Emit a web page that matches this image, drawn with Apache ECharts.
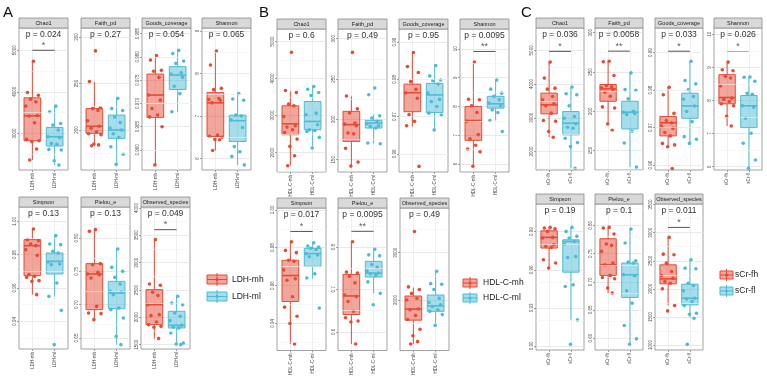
<!DOCTYPE html>
<html>
<head>
<meta charset="utf-8">
<script src="https://cdn.jsdelivr.net/npm/echarts@6/dist/echarts.min.js"></script>
<style>
html, body { margin: 0; background: #fff; }
#chart { width: 767px; height: 378px; }
</style>
</head>
<body>
<div id="chart"></div>
<script>
// facet order: top row 4, bottom row 3
const FACETS = ['Chao1', 'Faith_pd', 'Goods_coverage', 'Shannon', 'Simpson', 'Pielou_e', 'Observed_species'];

// ---------- panel A ----------
const A_GROUPS = ['LDH-mh', 'LDH-ml'];
const A_P = ['0.024', '0.27', '0.054', '0.065', '0.13', '0.13', '0.049'];
const A_SIG = [[5000, '*'], null, null, null, null, null, [3604, '*']];
const A_RANGE = [[2120, 5536], [157, 309.6], [0.9557, 0.9862], [5.73, 9.07], [0.9234, 1.0086], [0.6335, 0.8465], [1420, 4019]];
const A_TICKS = [['3000', '4000', '5000'], ['200', '250', '300'], ['0.960', '0.965', '0.970', '0.975', '0.980', '0.985'],
  ['6', '7', '8', '9'], ['0.94', '0.96', '0.98', '1.00'], ['0.65', '0.70', '0.75', '0.80'], ['1500', '2000', '2500', '3000', '3500', '4000']];
// [lower whisker, q1, median, q3, upper whisker]
const A_BOX_HI = [[2360, 2824, 3424, 3856, 4736], [183, 196.4, 204, 223, 251.8], [0.9568, 0.967, 0.9718, 0.9763, 0.9801],
  [6.19, 6.52, 7.31, 7.55, 8.53], [0.956, 0.9674, 0.9854, 0.989, 0.9954], [0.6775, 0.6925, 0.746, 0.7615, 0.8125], [1610, 1866, 2232, 2506, 3421]];
const A_BOX_LO = [[2240, 2696, 2920, 3144, 3656], [162.5, 191, 200, 216, 234], [0.9682, 0.973, 0.9761, 0.9779, 0.9816],
  [5.85, 6.40, 6.89, 7.02, 7.53], [0.955, 0.9684, 0.976, 0.981, 0.9914], [0.64, 0.694, 0.7175, 0.735, 0.7835], [1500, 1805, 1854, 2110, 2385]];
const A_PTS_HI = [
  [4736, 3984, 3920, 3824, 3760, 3656, 3430, 3420, 3256, 2856, 2824, 2800, 2624, 2360],
  [285, 252, 224, 223, 221, 210, 204, 202, 198, 196, 195, 185, 184, 183],
  [0.9803, 0.9793, 0.9771, 0.9769, 0.9756, 0.9718, 0.9707, 0.9689, 0.9675, 0.9671, 0.9650, 0.9568],
  [8.53, 8.20, 7.65, 7.62, 7.41, 7.39, 7.37, 7.31, 6.55, 6.52, 6.50, 6.45, 6.44, 6.19],
  [0.9954, 0.9890, 0.9884, 0.9864, 0.9854, 0.9830, 0.9796, 0.9680, 0.9670, 0.9664, 0.9644, 0.9640, 0.9560],
  [0.8125, 0.8100, 0.7615, 0.7600, 0.7485, 0.7460, 0.7450, 0.7400, 0.6975, 0.6875, 0.6865, 0.6775],
  [3421, 2610, 2586, 2458, 2397, 2232, 2049, 2030, 1915, 1866, 1835, 1817, 1610]
];
const A_PTS_LO = [
  [3656, 3520, 3240, 3200, 3080, 2920, 2900, 2760, 2740, 2616, 2600, 2344, 2240],
  [234, 223, 221, 214, 208, 202, 200, 196, 192, 182, 174, 163],
  [0.9814, 0.9807, 0.9791, 0.9786, 0.9766, 0.9763, 0.9756, 0.9737, 0.9721, 0.9682],
  [7.53, 7.40, 7.37, 7.02, 7.00, 6.91, 6.73, 6.28, 6.16, 6.05, 5.85],
  [0.9914, 0.9864, 0.9860, 0.9820, 0.9810, 0.9756, 0.9744, 0.9740, 0.9630, 0.9550, 0.9466, 0.9260],
  [0.7835, 0.7560, 0.7500, 0.7410, 0.7310, 0.7200, 0.7190, 0.7150, 0.6950, 0.6925, 0.6800, 0.6525, 0.6400],
  [2385, 2262, 2232, 2080, 2019, 1939, 1854, 1817, 1805, 1714, 1530, 1512, 1500]
];

// ---------- panel B ----------
const B_GROUPS = ['HDL-C-mh', 'HDL-C-ml'];
const B_P = ['0.6', '0.49', '0.95', '0.0095', '0.017', '0.0095', '0.49'];
const B_SIG = [null, null, null, [9.91, '**'], [0.9886, '*'], [0.837, '**'], null];
const B_RANGE = [[1469, 5339], [134.7, 312], [0.9551, 0.9935], [5.72, 10.69], [0.9257, 1.001], [0.556, 0.892], [930, 3946]];
const B_TICKS = [['2000', '3000', '4000', '5000'], ['150', '200', '250', '300'], ['0.96', '0.97', '0.98', '0.99'],
  ['6', '7', '8', '9', '10'], ['0.94', '0.96', '0.98', '1.00'], ['0.6', '0.7', '0.8'], ['2000', '3000']];
const B_BOX_HI = [[1640, 2477, 2774, 3260, 3647], [141.7, 172.7, 193.4, 209.9, 228.5], [0.9673, 0.9713, 0.9764, 0.9787, 0.9871],
  [5.94, 6.82, 7.51, 8.0, 9.53], [0.9291, 0.9516, 0.9653, 0.9734, 0.9831], [0.5715, 0.6408, 0.6846, 0.7354, 0.81], [1069, 1572, 1807, 2083, 2262]];
const B_BOX_LO = [[2162, 2612, 2837, 3377, 3800], [169.8, 189.2, 195.4, 198.7, 205.8], [0.9669, 0.9711, 0.9758, 0.9789, 0.9838],
  [7.51, 7.94, 8.09, 8.35, 8.92], [0.9636, 0.9702, 0.9769, 0.9797, 0.9826], [0.6908, 0.7292, 0.7385, 0.7662, 0.7946], [1462, 1759, 1876, 2104, 2587]];
const B_PTS_HI = [
  [4709, 3674, 3620, 3305, 3260, 2972, 2720, 2684, 2612, 2540, 2360, 2162, 1910, 1640],
  [283, 229, 213, 208, 195.4, 194, 192, 183, 182, 164, 147, 142],
  [0.9872, 0.9834, 0.9818, 0.9794, 0.9773, 0.9763, 0.9749, 0.9705, 0.9687, 0.9675, 0.9566],
  [9.54, 8.25, 8.23, 8.02, 7.79, 7.48, 7.02, 6.87, 6.65, 6.52, 6.42, 5.92],
  [0.9831, 0.9786, 0.9774, 0.9734, 0.9728, 0.9683, 0.9636, 0.9628, 0.9541, 0.9486, 0.9438, 0.9400, 0.9291],
  [0.8123, 0.7408, 0.7385, 0.7308, 0.7154, 0.6869, 0.6831, 0.6715, 0.6485, 0.6331, 0.6254, 0.6231, 0.5715],
  [3449, 2276, 2221, 2138, 2035, 2000, 1807, 1793, 1669, 1586, 1379, 1241, 1117, 1069]
];
const B_PTS_LO = [
  [3782, 3710, 3620, 3539, 3062, 3017, 2747, 2612, 2594, 2567, 2405, 2117],
  [238.8, 230.5, 204.5, 201.6, 197.5, 194.6, 192.1, 191.3, 189.2, 170.7, 169.8],
  [0.9837, 0.9809, 0.9798, 0.9796, 0.9787, 0.9763, 0.9746, 0.9740, 0.9727, 0.9709, 0.9704, 0.9664],
  [8.92, 8.60, 8.46, 8.35, 8.23, 8.12, 8.02, 7.88, 7.79, 7.51, 7.13],
  [0.9826, 0.9809, 0.9803, 0.9797, 0.9791, 0.9769, 0.9762, 0.9752, 0.9662, 0.9640, 0.9481],
  [0.7946, 0.7815, 0.7792, 0.7585, 0.7523, 0.7431, 0.7385, 0.7369, 0.7331, 0.7177, 0.6908, 0.6638],
  [2607, 2345, 2331, 2221, 2035, 1945, 1897, 1862, 1793, 1759, 1690, 1462]
];

// ---------- panel C ----------
const C_GROUPS = ['sCr-fh', 'sCr-fl'];
const C_P = ['0.036', '0.0058', '0.033', '0.026', '0.19', '0.1', '0.011'];
const C_SIG = [[4970, '*'], [276.5, '**'], [0.9904, '*'], [9.48, '*'], null, null, [3094, '*']];
const C_RANGE = [[1455, 5663], [125, 306], [0.9587, 0.9966], [5.9, 10.19], [0.8968, 1.0118], [0.579, 0.838], [911, 3511]];
const C_TICKS = [['2000', '3000', '4000', '5000'], ['150', '200', '250', '300'], ['0.96', '0.97', '0.98', '0.99'],
  ['6', '7', '8', '9', '10'], ['0.90', '0.93', '0.96', '0.99'], ['0.60', '0.65', '0.70', '0.75', '0.80'], ['1000', '1500', '2000', '2500', '3000', '3500']];
const C_BOX_HI = [[2426, 3119, 3386, 3733, 4653], [183.7, 212.6, 228.4, 234, 263.7], [0.9649, 0.9678, 0.9713, 0.9730, 0.9808],
  [7.23, 7.90, 8.09, 8.78, 9.16], [0.9613, 0.9771, 0.9855, 0.9907, 0.9934], [0.68, 0.7113, 0.7302, 0.7764, 0.7965], [1702, 2089, 2178, 2428, 2916]];
const C_BOX_LO = [[1505, 2495, 2842, 3188, 3911], [128.7, 177.3, 198.6, 212.6, 248.8], [0.9658, 0.9725, 0.9758, 0.9792, 0.9877],
  [5.98, 7.18, 7.84, 8.15, 8.71], [0.9205, 0.9581, 0.9823, 0.9836, 0.9934], [0.5893, 0.6722, 0.7125, 0.7332, 0.7936], [1488, 1714, 1833, 2083, 2517]];
const C_PTS_HI = [
  [4653, 4178, 3881, 3851, 3634, 3535, 3416, 3356, 3139, 2921, 2900, 2594, 2426],
  [263.7, 262.9, 245.4, 232.6, 230.9, 229.7, 227.5, 224.1, 219.0, 205.4, 204.1, 183.7, 175.6],
  [0.9808, 0.9788, 0.9738, 0.9719, 0.9713, 0.9704, 0.9698, 0.9687, 0.9678, 0.9658, 0.9654, 0.9649, 0.9591],
  [9.16, 8.93, 8.90, 8.73, 8.68, 8.44, 8.07, 8.04, 7.97, 7.90, 7.84, 7.52, 7.23],
  [0.9934, 0.9928, 0.9923, 0.9902, 0.9855, 0.9850, 0.9797, 0.9784, 0.9776, 0.9679, 0.9653, 0.9613],
  [0.7965, 0.7953, 0.7847, 0.7670, 0.7646, 0.7539, 0.7332, 0.7302, 0.7113, 0.7077, 0.7054, 0.6888, 0.6800],
  [2916, 2618, 2607, 2458, 2309, 2238, 2190, 2131, 2101, 2000, 1702, 1607]
];
const C_PTS_LO = [
  [3911, 3713, 3683, 3356, 3040, 2990, 2822, 2723, 2693, 2396, 2267, 2149, 1505],
  [248.8, 227.5, 226.7, 215.6, 199.8, 198.6, 196.9, 195.6, 174.3, 159.4, 128.7],
  [0.9877, 0.9826, 0.9817, 0.9801, 0.9783, 0.9776, 0.9758, 0.9743, 0.9716, 0.9676, 0.9669, 0.9658],
  [8.71, 8.70, 8.58, 8.22, 8.19, 7.84, 7.80, 7.46, 7.01, 6.71, 6.20, 5.95],
  [0.9934, 0.9902, 0.9863, 0.9850, 0.9823, 0.9802, 0.9705, 0.9697, 0.9481, 0.9468, 0.9205, 0.9013],
  [0.7936, 0.7687, 0.7373, 0.7350, 0.7332, 0.7125, 0.7107, 0.6840, 0.6621, 0.6225, 0.5988, 0.5893],
  [2517, 2369, 2357, 2101, 2059, 1964, 1833, 1821, 1774, 1702, 1565, 1547, 1476, 1012]
];

// fixed horizontal spread of the jittered points (group units)
const JITTER = [0.05, -0.22, 0.27, -0.08, 0.16, -0.3, 0.22, -0.15, 0.1, -0.26, 0.3, -0.02, 0.19, -0.12];

const RED = '#E64B35', BLUE = '#4DBBD5';
const RED_FILL = 'rgba(230,75,53,0.5)', BLUE_FILL = 'rgba(77,187,213,0.5)';
const FONT = '"Liberation Sans", Arial, sans-serif';

// layout (pixels)
const LAYOUT = {
  A: { tops: [28, 207], heights: [142, 142], lefts: [[19, 81, 142, 202], [19, 81, 141]], width: 49,
       letter: [3, 5], legend: { x: 207, ys: [275, 292], w: 20, h: 9, tx: 232 } },
  B: { tops: [29, 208], heights: [143, 145], lefts: [[277, 338, 399, 460], [277, 338, 400]], width: 49,
       letter: [259, 5], legend: { x: 463, ys: [279, 294], w: 14, h: 8, tx: 483 } },
  C: { tops: [28, 204], heights: [142, 146], lefts: [[536, 595, 655, 714], [536, 595, 655]], width: 48,
       letter: [521, 5], legend: { x: 720, ys: [271, 287], w: 13, h: 8, tx: 735 } }
};

const PANELS = [
  { key: 'A', groups: A_GROUPS, p: A_P, sig: A_SIG, range: A_RANGE, ticks: A_TICKS, boxHi: A_BOX_HI, boxLo: A_BOX_LO, ptsHi: A_PTS_HI, ptsLo: A_PTS_LO },
  { key: 'B', groups: B_GROUPS, p: B_P, sig: B_SIG, range: B_RANGE, ticks: B_TICKS, boxHi: B_BOX_HI, boxLo: B_BOX_LO, ptsHi: B_PTS_HI, ptsLo: B_PTS_LO },
  { key: 'C', groups: C_GROUPS, p: C_P, sig: C_SIG, range: C_RANGE, ticks: C_TICKS, boxHi: C_BOX_HI, boxLo: C_BOX_LO, ptsHi: C_PTS_HI, ptsLo: C_PTS_LO }
];

const grids = [], xAxes = [], yAxes = [], series = [], graphics = [];

function boxSeries(gi, x, stats, stroke, fill) {
  return {
    type: 'custom', xAxisIndex: gi, yAxisIndex: gi, z: 3, silent: true,
    data: [[x].concat(stats)],
    renderItem: function (params, api) {
      const cx = api.coord([api.value(0), api.value(3)])[0];
      const half = api.size([0.375, 0])[0];
      const y = k => api.coord([api.value(0), api.value(k)])[1];
      const yMin = y(1), yQ1 = y(2), yMd = y(3), yQ3 = y(4), yMax = y(5);
      return {
        type: 'group',
        children: [
          { type: 'line', shape: { x1: cx, y1: yMax, x2: cx, y2: yQ3 }, style: { stroke: stroke, lineWidth: 1 } },
          { type: 'line', shape: { x1: cx, y1: yQ1, x2: cx, y2: yMin }, style: { stroke: stroke, lineWidth: 1 } },
          { type: 'rect', shape: { x: cx - half, y: yQ3, width: 2 * half, height: yQ1 - yQ3 }, style: { fill: fill, stroke: stroke, lineWidth: 1 } },
          { type: 'line', shape: { x1: cx - half, y1: yMd, x2: cx + half, y2: yMd }, style: { stroke: stroke, lineWidth: 1.6 } }
        ]
      };
    }
  };
}

function pointSeries(gi, x, pts, color) {
  return {
    type: 'scatter', xAxisIndex: gi, yAxisIndex: gi, z: 4, silent: true,
    symbolSize: 3.6, itemStyle: { color: color, opacity: 1 },
    data: pts.map((v, k) => [x + JITTER[k % JITTER.length], v])
  };
}

PANELS.forEach(pn => {
  const L = LAYOUT[pn.key];
  FACETS.forEach((name, f) => {
    const row = f < 4 ? 0 : 1, col = f < 4 ? f : f - 4;
    const left = L.lefts[row][col], top = L.tops[row], h = L.heights[row], w = L.width;
    const gi = grids.length;
    const tickStr = pn.ticks[f], tickNum = tickStr.map(Number);
    const [ymin, ymax] = pn.range[f];
    const step = tickNum.length > 1 ? tickNum[1] - tickNum[0] : 1;
    const minors = [];
    for (let t = tickNum[0] - step / 2; t <= ymax; t += step) if (t >= ymin) minors.push(t);

    grids.push({ left: left, top: top, width: w, height: h, show: true, backgroundColor: '#fff',
      borderColor: '#8a8a8a', borderWidth: 0.8 });
    xAxes.push({
      type: 'value', gridIndex: gi, min: 0.4, max: 2.6,
      axisLine: { show: false },
      axisTick: { show: true, customValues: [1, 2], length: 2, lineStyle: { color: '#666', width: 0.6 } },
      axisLabel: { customValues: [1, 2], formatter: v => pn.groups[Math.round(v) - 1], rotate: 90,
        fontSize: 4.5, color: '#4d4d4d', margin: 3, fontFamily: FONT },
      splitLine: { show: true, lineStyle: { color: '#e6e6e6', width: 0.7 } }
    });
    yAxes.push({
      type: 'value', gridIndex: gi, min: ymin, max: ymax,
      axisLine: { show: false },
      axisTick: { show: true, customValues: tickNum, length: 2, lineStyle: { color: '#666', width: 0.6 } },
      axisLabel: { customValues: tickNum, formatter: v => { const i = tickNum.indexOf(v); return i >= 0 ? tickStr[i] : String(v); },
        rotate: 90, fontSize: 4.5, color: '#4d4d4d', margin: 2, fontFamily: FONT },
      splitLine: { show: true, lineStyle: { color: '#e0e0e0', width: 0.7 } }
    });

    // minor grid lines
    series.push({
      type: 'line', xAxisIndex: gi, yAxisIndex: gi, z: 1, silent: true, data: [[0.4, ymin]],
      symbol: 'none', lineStyle: { opacity: 0 },
      markLine: { silent: true, symbol: 'none', animation: false, label: { show: false },
        lineStyle: { color: '#f1f1f1', width: 0.6, type: 'solid' }, data: minors.map(v => ({ yAxis: v })) }
    });
    series.push(boxSeries(gi, 1, pn.boxHi[f], RED, RED_FILL));
    series.push(boxSeries(gi, 2, pn.boxLo[f], BLUE, BLUE_FILL));
    series.push(pointSeries(gi, 1, pn.ptsHi[f], RED));
    series.push(pointSeries(gi, 2, pn.ptsLo[f], BLUE));

    const sig = pn.sig[f];
    if (sig) {
      series.push({ type: 'line', xAxisIndex: gi, yAxisIndex: gi, z: 4, silent: true, symbol: 'none',
        lineStyle: { color: '#555', width: 1 }, data: [[1, sig[0]], [2, sig[0]]] });
      series.push({ type: 'scatter', xAxisIndex: gi, yAxisIndex: gi, z: 5, silent: true, symbolSize: 1,
        itemStyle: { color: 'rgba(0,0,0,0)' }, data: [[1.5, sig[0]]],
        label: { show: true, position: 'top', distance: 0, formatter: sig[1], fontSize: 9, color: '#333', fontFamily: FONT } });
    }

    // strip header and p-value
    graphics.push({ type: 'rect', z: 100, shape: { x: left, y: top - 10, width: w, height: 10 },
      style: { fill: '#d9d9d9', stroke: '#8a8a8a', lineWidth: 0.8 } });
    graphics.push({ type: 'text', z: 101, x: left + w / 2, y: top - 5,
      style: { text: name, fontSize: 5.5, fontFamily: FONT, fill: '#1a1a1a', align: 'center', verticalAlign: 'middle' } });
    graphics.push({ type: 'text', z: 101, x: left + w / 2, y: top + 6.5,
      style: { text: 'p = ' + pn.p[f], fontSize: 8.5, fontFamily: FONT, fill: '#333', align: 'center', verticalAlign: 'middle' } });
  });

  // panel letter
  graphics.push({ type: 'text', z: 101, x: L.letter[0], y: L.letter[1],
    style: { text: pn.key, fontSize: 15, fontFamily: FONT, fill: '#111', align: 'left', verticalAlign: 'top' } });

  // legend keys
  const lg = L.legend;
  [[RED, RED_FILL], [BLUE, BLUE_FILL]].forEach((c, k) => {
    const y = lg.ys[k], cx = lg.x + lg.w / 2;
    graphics.push({ type: 'line', z: 100, shape: { x1: cx, y1: y - 2, x2: cx, y2: y + lg.h + 2 }, style: { stroke: c[0], lineWidth: 1 } });
    graphics.push({ type: 'rect', z: 100, shape: { x: lg.x, y: y, width: lg.w, height: lg.h }, style: { fill: c[1], stroke: c[0], lineWidth: 1 } });
    graphics.push({ type: 'line', z: 100, shape: { x1: lg.x, y1: y + lg.h / 2, x2: lg.x + lg.w, y2: y + lg.h / 2 }, style: { stroke: c[0], lineWidth: 1 } });
    graphics.push({ type: 'circle', z: 101, shape: { cx: cx, cy: y + lg.h / 2, r: 1.6 }, style: { fill: c[0] } });
    graphics.push({ type: 'text', z: 101, x: lg.tx, y: y + lg.h / 2,
      style: { text: pn.groups[k], fontSize: 8.5, fontFamily: FONT, fill: '#222', align: 'left', verticalAlign: 'middle' } });
  });
});

const chart = echarts.init(document.getElementById('chart'));
chart.setOption({
  animation: false,
  backgroundColor: '#fff',
  grid: grids,
  xAxis: xAxes,
  yAxis: yAxes,
  series: series,
  graphic: { elements: graphics }
});
</script>
</body>
</html>
